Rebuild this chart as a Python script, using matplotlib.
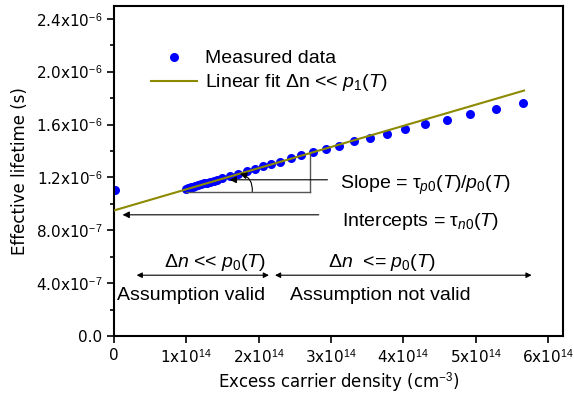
import numpy as np
import matplotlib
matplotlib.use("Agg")
import matplotlib.pyplot as plt
from matplotlib.ticker import FixedLocator, FuncFormatter, MultipleLocator

plt.rcParams['font.family'] = ['Liberation Sans', 'DejaVu Sans']
plt.rcParams['mathtext.fontset'] = 'custom'
plt.rcParams['mathtext.rm'] = 'Liberation Sans'
plt.rcParams['mathtext.it'] = 'Liberation Sans:italic'

# Messdaten (Überschussladungsträgerdichte in 1e14 cm^-3, Lebensdauer in µs)
dn_e14 = [0.01, 0.995, 1.023, 1.058, 1.092, 1.127, 1.161, 1.203, 1.244, 1.286, 1.334,
          1.383, 1.431, 1.489, 1.604, 1.714, 1.835, 1.949, 2.060, 2.175, 2.302,
          2.443, 2.589, 2.751, 2.931, 3.115, 3.318, 3.539, 3.779, 4.028, 4.300,
          4.599, 4.922, 5.277, 5.659]
tau_us = [1.106, 1.115, 1.119, 1.124, 1.130, 1.135, 1.141, 1.147, 1.154, 1.161, 1.168,
          1.176, 1.184, 1.193, 1.211, 1.229, 1.248, 1.266, 1.284, 1.302, 1.320,
          1.345, 1.366, 1.389, 1.415, 1.440, 1.472, 1.498, 1.531, 1.563, 1.601,
          1.637, 1.677, 1.718, 1.763]

# Linearer Fit: tau = intercept + slope * dn
fit_intercept = 0.95e-6     # s
fit_slope = 1.6e-21         # s cm^3
fit_x_end = 5.67e14

x_ticks = [0, 1e14, 2e14, 3e14, 4e14, 5e14, 6e14]
y_ticks = [0, 4e-7, 8e-7, 1.2e-6, 1.6e-6, 2.0e-6, 2.4e-6]

dn = np.array(dn_e14) * 1e14
tau = np.array(tau_us) * 1e-6

fig = plt.figure(figsize=(5.74, 4.0), dpi=100)
ax = fig.add_axes([0.1986, 0.16, 0.7824, 0.826])

x_fit = np.array([0, fit_x_end])
ax.plot(x_fit, fit_intercept + fit_slope * x_fit, color='#8c8a00', lw=1.5,
        label=r"Linear fit $\Delta$n << $p_1$($T$)", zorder=3)
ax.plot(dn, tau, 'o', color='#0000ff', ms=6.5, mec='none',
        label="Measured data", zorder=2)

ax.set_xlim(0, 6.21e14)
ax.set_ylim(0, 2.5e-6)

def fmt_x(v, pos):
    if v == 0:
        return "0"
    e = int(np.floor(np.log10(v)))
    return f"{v / 10**e:.0f}x10$^{{{e}}}$"

def fmt_y(v, pos):
    if v == 0:
        return "0.0"
    e = int(np.floor(np.log10(v)))
    return f"{v / 10**e:.1f}x10$^{{{e}}}$"

ax.xaxis.set_major_locator(FixedLocator(x_ticks))
ax.yaxis.set_major_locator(FixedLocator(y_ticks))
ax.yaxis.set_minor_locator(MultipleLocator(2e-7))
ax.xaxis.set_major_formatter(FuncFormatter(fmt_x))
ax.yaxis.set_major_formatter(FuncFormatter(fmt_y))
ax.tick_params(axis='both', which='major', direction='out', length=5, width=1.2,
               labelsize=11, top=False, right=False)
ax.tick_params(axis='y', which='minor', direction='out', length=3, width=1.2)
for lab in ax.get_xticklabels() + ax.get_yticklabels():
    lab.set_family(['DejaVu Sans'])
for s in ax.spines.values():
    s.set_linewidth(1.5)

ax.set_xlabel("Excess carrier density (cm$^{-3}$)", fontsize=12, family=['DejaVu Sans'], labelpad=3)
ax.set_ylabel("Effective lifetime (s)", fontsize=12, family=['DejaVu Sans'], labelpad=5)

# Legende
handles, labels = ax.get_legend_handles_labels()
ax.legend(handles[::-1], labels[::-1], loc='upper left', bbox_to_anchor=(0.082, 0.866),
          frameon=False, fontsize=14, borderaxespad=0, borderpad=0,
          handlelength=2.4, handletextpad=0.4, labelspacing=0.25, numpoints=1)

# Steigungsdreieck
gray = '#555555'
ax.plot([0.995e14, 2.71e14], [1.086e-6, 1.086e-6], color=gray, lw=1)
ax.plot([2.71e14, 2.71e14], [1.086e-6, fit_intercept + fit_slope * 2.71e14], color=gray, lw=1)
ax.annotate("", xy=(1.56e14, 1.182e-6), xytext=(2.99e14, 1.182e-6),
            arrowprops=dict(arrowstyle='-|>', color='black', lw=0.8, mutation_scale=10))
ax.annotate("", xy=(1.742e14, 1.2276e-6), xytext=(1.912e14, 1.0935e-6),
            arrowprops=dict(arrowstyle='-|>', color='black', lw=0.8, mutation_scale=10,
                            connectionstyle='arc3,rad=0.4', shrinkA=0, shrinkB=0))
ax.text(3.125e14, 1.137e-6, r"Slope = τ$_{p0}$($T$)/$p_0$($T$)", fontsize=14, va='center')

# Achsenabschnitt
ax.annotate("", xy=(0.08e14, 0.917e-6), xytext=(2.87e14, 0.917e-6),
            arrowprops=dict(arrowstyle='-|>', color='black', lw=0.8, mutation_scale=10))
ax.text(3.15e14, 0.87e-6, r"Intercepts = τ$_{n0}$($T$)", fontsize=14, va='center')

# Gültigkeitsbereiche
ax.annotate("", xy=(0.313e14, 0.46e-6), xytext=(2.143e14, 0.46e-6),
            arrowprops=dict(arrowstyle='<|-|>', color='black', lw=0.8, mutation_scale=8,
                            shrinkA=0, shrinkB=0))
ax.annotate("", xy=(2.226e14, 0.46e-6), xytext=(5.775e14, 0.46e-6),
            arrowprops=dict(arrowstyle='<|-|>', color='black', lw=0.8, mutation_scale=8,
                            shrinkA=0, shrinkB=0))
ax.text(1.40e14, 0.555e-6, r"Δ$n$ << $p_0$($T$)", fontsize=14, ha='center', va='center')
ax.text(3.70e14, 0.555e-6, r"Δ$n$  <= $p_0$($T$)", fontsize=14, ha='center', va='center')
ax.text(1.06e14, 0.31e-6, "Assumption valid", fontsize=14, ha='center', va='center')
ax.text(3.68e14, 0.31e-6, "Assumption not valid", fontsize=14, ha='center', va='center')

fig.savefig("out.png", dpi=100)
